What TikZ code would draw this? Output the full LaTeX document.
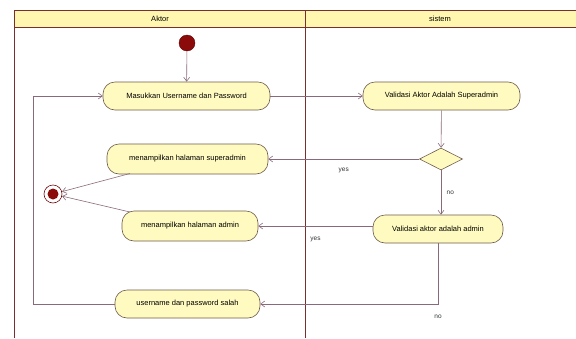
\documentclass[tikz,border=0pt]{standalone}
\usepackage{fontspec}
\setmainfont{Liberation Sans}
\usetikzlibrary{arrows.meta,shapes.geometric}
\definecolor{lane}{HTML}{7A2E2E}
\definecolor{hdr}{HTML}{FFF6B0}
\definecolor{nodefill}{HTML}{FFFBC0}
\definecolor{nodeline}{HTML}{6E5A4A}
\definecolor{conn}{HTML}{8A6A7A}
\definecolor{startred}{HTML}{8B0A0A}
\begin{document}
\begin{tikzpicture}[x=1pt,y=-1pt,
  font=\fontsize{7.5}{9}\selectfont,
  act/.style={draw=nodeline,fill=nodefill,rounded corners=12pt,minimum height=28pt,inner sep=2pt,line width=0.6pt},
  dec/.style={draw=nodeline,fill=nodefill,diamond,minimum width=43pt,minimum height=22pt,inner sep=0pt,aspect=2,line width=0.6pt},
  flow/.style={draw=conn,line width=0.6pt,-{Straight Barb[length=4pt,width=6pt]}},
  lbl/.style={font=\fontsize{6.5}{7}\selectfont,text=black!80}]
\useasboundingbox (0,0) rectangle (576,338);
% swimlanes
\fill[hdr] (14,10) rectangle (576,27);
\draw[lane,line width=1pt] (576,10) -- (14,10) -- (14,338);
\draw[lane,line width=1pt] (14,27) -- (576,27);
\draw[lane,line width=1pt] (305,10) -- (305,338);
\node (hA) at (160,18.5) {Aktor};
\node (hS) at (440,18.5) {sistem};
% nodes
\node[circle,fill=startred,draw=startred!70!black,minimum size=16pt,inner sep=0pt] (start) at (187,43) {};
\node[act,minimum width=167pt] (m1) at (186.5,96) {Masukkan Username dan Password};
\node[act,minimum width=157pt] (v1) at (441.5,96) {Validasi Aktor Adalah Superadmin};
\node[dec] (d) at (441,159) {};
\node[act,minimum width=161pt,minimum height=30pt] (s1) at (187.5,159) {menampilkan halaman superadmin};
\node[act,minimum width=130pt] (v2) at (438,229) {Validasi aktor adalah admin};
\node[act,minimum width=136pt,minimum height=30pt] (a1) at (190,226) {menampilkan halaman admin};
\node[act,minimum width=145pt] (u1) at (187.5,304) {username dan password salah};
\node[circle,draw=startred!80!black,fill=white,minimum size=18pt,inner sep=0pt,line width=0.6pt] (endo) at (53,194) {};
\node[circle,fill=startred,minimum size=11pt,inner sep=0pt] (endi) at (53,194) {};
% helper coordinates
\coordinate (loopA) at (33,304);
\coordinate (loopB) at (33,96);
\coordinate (cor) at (438,304);
\coordinate (s1p) at (130,173.5);
\coordinate (a1p) at (130,212);
% edges
\draw[flow] (start) -- (m1);
\draw[flow] (m1) -- (v1);
\draw[flow] (v1) -- (d);
\draw[flow] (d.west) -- (s1.east) node[lbl,pos=0.5,below=5pt] {yes};
\draw[flow] (d.south) -- (d.south |- v2.north) node[lbl,pos=0.5,right=2pt] {no};
\draw[flow] (v2.west |- a1.east) -- (a1.east) node[lbl,pos=0.5,below=7pt] {yes};
\draw[flow] (v2.south -| cor) -- (cor) -- (u1.east) node[lbl,pos=0,below=7pt] {no};
\draw[flow] (u1.west) -- (loopA) -- (loopB) -- (m1.west);
\draw[flow] (s1p) -- (endo);
\draw[flow] (a1p) -- (endo);
\end{tikzpicture}
\end{document}
